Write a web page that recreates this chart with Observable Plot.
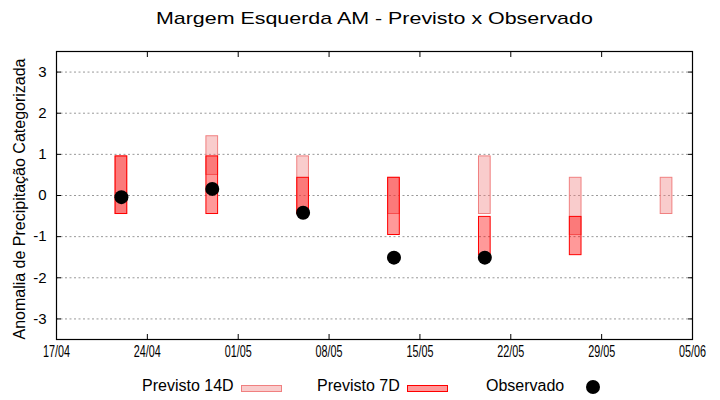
<!DOCTYPE html>
<html>
<head>
<meta charset="utf-8">
<script src="https://cdn.jsdelivr.net/npm/d3@7"></script>
<script src="https://cdn.jsdelivr.net/npm/@observablehq/plot@0.6"></script>
<style>
  body { margin: 0; background: #fff; font-family: "Liberation Sans", Arial, sans-serif; color: #000; }
  #wrap { position: relative; width: 720px; height: 400px; overflow: hidden; }
  #title { position: absolute; left: 0; top: 9px; width: 748px; text-align: center; font-size: 17px; line-height: 20px; white-space: nowrap; }
  #title span { display: inline-block; transform: scaleX(1.26); }
  #ytitle { position: absolute; z-index: 2; left: 20px; top: 199px; transform: translate(-50%, -50%) rotate(-90deg); font-size: 16px; line-height: 18px; white-space: nowrap; }
  #chart { position: absolute; z-index: 1; left: 0; top: 40px; }
  .lt { position: absolute; top: 378px; font-size: 16px; line-height: 16px; white-space: nowrap; }
  .lr { position: absolute; top: 385px; width: 39px; height: 5px; }
  .ld { position: absolute; left: 586px; top: 380px; width: 14px; height: 14px; border-radius: 50%; background: #000; }
</style>
</head>
<body>
<div id="wrap">
  <div id="title"><span>Margem Esquerda AM - Previsto x Observado</span></div>
  <div id="chart"></div>
  <div id="ytitle">Anomalia de Precipitação Categorizada</div>
  <div class="lt" style="left:142px">Previsto 14D</div>
  <div class="lr" style="left:241px;background:#f9cccc;border:1px solid #f08080"></div>
  <div class="lt" style="left:317px">Previsto 7D</div>
  <div class="lr" style="left:407px;background:#ff9999;border:1px solid #ff0000"></div>
  <div class="lt" style="left:486px">Observado</div>
  <div class="ld"></div>
</div>
<script>
// ---- data ----
const dates   = ["2024-04-22", "2024-04-29", "2024-05-06", "2024-05-13", "2024-05-20", "2024-05-27", "2024-06-03"];
const p14Top  = [0.95, 1.44, 0.95, 0.43, 0.95, 0.43, 0.43];
const p14Bot  = [-0.45, 0.50, -0.45, -0.45, -0.45, -0.96, -0.45];
const p7Top   = [0.95, 0.95, 0.43, 0.43, -0.52, -0.52, null];
const p7Bot   = [-0.45, -0.45, -0.45, -0.96, -1.45, -1.45, null];
const obs     = [-0.04, 0.16, -0.42, -1.51, -1.51, null, null];
const xTickLabels = ["17/04", "24/04", "01/05", "08/05", "15/05", "22/05", "29/05", "05/06"];
const yTicks  = [-3, -2, -1, 0, 1, 2, 3];

// ---- build tables ----
const DAY = 864e5;
const parse = d3.utcParse("%Y-%m-%d");
const rows = dates.map((d, i) => ({
  date: parse(d), t14: p14Top[i], b14: p14Bot[i], t7: p7Top[i], b7: p7Bot[i], obs: obs[i]
}));
const halfW = 0.45 * DAY;
const x1 = d => new Date(+d.date - halfW);
const x2 = d => new Date(+d.date + halfW);
const xTicks = xTickLabels.map(s => {
  const [dd, mm] = s.split("/");
  return parse(`2024-${mm}-${dd}`);
});
const fmt = d3.utcFormat("%d/%m");

const chart = Plot.plot({
  width: 720,
  height: 330,
  marginTop: 11,
  marginBottom: 31,
  marginLeft: 56,
  marginRight: 28,
  style: { fontFamily: "Liberation Sans, Arial, sans-serif", fontSize: "15px", background: "#fff", color: "#000", overflow: "visible" },
  x: { type: "utc", domain: [xTicks[0], xTicks[xTicks.length - 1]], label: null },
  y: { domain: [-3.5, 3.5], label: null },
  marks: [
    Plot.gridY(yTicks, { stroke: "#999", strokeOpacity: 1, strokeWidth: 1, strokeDasharray: "2,2.5" }),
    Plot.rectY(rows, { x1, x2, y1: "b14", y2: "t14", fill: "#f08080", fillOpacity: 0.4, stroke: "#f08080", strokeWidth: 1 }),
    Plot.rectY(rows.filter(r => r.t7 != null), { x1, x2, y1: "b7", y2: "t7", fill: "#ff0000", fillOpacity: 0.4, stroke: "#ff0000", strokeWidth: 1 }),
    Plot.dot(rows.filter(r => r.obs != null), { x: "date", y: "obs", r: 7, fill: "#000", stroke: "none" }),
    Plot.frame({ stroke: "#000", strokeWidth: 1.2 }),
    // labels
    Plot.axisY(yTicks, { anchor: "left", tickSize: 0, tickPadding: 10, tickFormat: d => String(d), fontSize: 15 }),
    Plot.axisX(xTicks, { anchor: "bottom", tickSize: 0, tickPadding: 5, tickFormat: fmt, fontSize: 17 }),
    // inward ticks
    Plot.axisY(yTicks, { anchor: "left", tickSize: 5, dx: 5, tickFormat: () => "" }),
    Plot.axisY(yTicks, { anchor: "right", tickSize: 5, dx: -5, tickFormat: () => "" }),
    Plot.axisX(xTicks, { anchor: "bottom", tickSize: 5, dy: -5, tickFormat: () => "" }),
    Plot.axisX(xTicks, { anchor: "top", tickSize: 5, dy: 5, tickFormat: () => "" })
  ]
});
document.getElementById("chart").appendChild(chart);

// compress x tick labels horizontally as in the reference
chart.querySelectorAll('g[aria-label="x-axis tick label"]').forEach(g => {
  g.querySelectorAll("text").forEach(t => {
    if (t.textContent.trim()) {
      t.setAttribute("font-size", 17);
      t.style.fontSize = "17px";
      t.setAttribute("textLength", 27);
      t.setAttribute("lengthAdjust", "spacingAndGlyphs");
    }
  });
});
</script>
</body>
</html>
